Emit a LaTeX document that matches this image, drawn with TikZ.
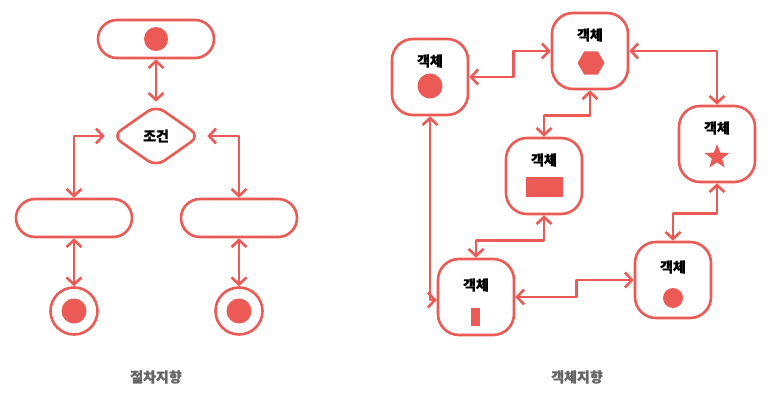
\documentclass[tikz,border=0pt]{standalone}
\usepackage{fontspec}
\newfontfamily\kr{Noto Sans CJK KR}[BoldFeatures={FakeBold=0.8}]
\usepackage{xcolor}
\usepackage{tikz}
\usetikzlibrary{arrows.meta, positioning, shapes.geometric}

\definecolor{coral}{HTML}{EC5A55}
\definecolor{capgray}{HTML}{666666}

\begin{document}
\begin{tikzpicture}[x=1pt, y=-1pt, >={Straight Barb[length=7pt, width=15pt]},
    link/.style={<->, draw=coral, line width=2.6pt, line join=round},
    pill/.style={draw=coral, line width=2.6pt, rounded corners=19pt, minimum width=116pt, minimum height=38pt, inner sep=0pt},
    cond/.style={diamond, draw=coral, line width=2.6pt, rounded corners=10pt, aspect=1.45, minimum width=88pt, minimum height=62pt, inner sep=0pt, font=\kr\bfseries\fontsize{14}{16}\selectfont},
    endring/.style={circle, draw=coral, line width=2.6pt, minimum size=47pt, inner sep=0pt},
    objbox/.style={draw=coral, line width=2.6pt, rounded corners=21pt, minimum width=76pt, minimum height=76pt, inner sep=0pt},
    objtext/.style={font=\kr\bfseries\fontsize{14}{16}\selectfont, inner sep=0pt},
    caption/.style={font=\kr\bfseries\fontsize{14}{16}\selectfont, text=capgray, inner sep=0pt},
    mark dot/.style={circle, fill=coral, inner sep=0pt}]
    \useasboundingbox (0,0) rectangle (773,406);

    % 절차지향
    \node[pill] (start) at (156,39) {};
    \node[mark dot, minimum size=24pt] (startdot) at (start) {};
    \node[cond] (check) at (156,136) {조건};
    \node[pill] (leftbox) at (74,218) {};
    \node[pill] (rightbox) at (239,218) {};
    \node[endring] (endL) at (74,311) {};
    \node[endring] (endR) at (239,311) {};
    \node[mark dot, minimum size=25pt] (endLdot) at (endL) {};
    \node[mark dot, minimum size=25pt] (endRdot) at (endR) {};

    \draw[link, shorten >=2pt] (start) -- (check.north);
    \draw[link, shorten <=6pt] (check.west) -| (leftbox.north);
    \draw[link, shorten <=6pt] (check.east) -| (rightbox.north);
    \draw[link] (leftbox) -- (endL);
    \draw[link] (rightbox) -- (endR);

    \node[caption] (procLabel) at (156,377) {절차지향};

    % 객체지향
    \node[objbox] (objA) at (430,77) {};
    \node[objbox] (objB) at (590,51) {};
    \node[objbox] (objC) at (717,144) {};
    \node[objbox] (objD) at (544,176) {};
    \node[objbox] (objE) at (476,297) {};
    \node[objbox] (objF) at (673,280) {};

    \node[objtext] (textA) at (430,61) {객체};
    \node[objtext] (textB) at (590,35) {객체};
    \node[objtext] (textC) at (717,128) {객체};
    \node[objtext] (textD) at (544,160) {객체};
    \node[objtext] (textE) at (476,285) {객체};
    \node[objtext] (textF) at (673,267) {객체};

    \node[mark dot, minimum size=25pt] (shapeA) at (430,86) {};
    \node[regular polygon, regular polygon sides=6, fill=coral, minimum size=27pt, inner sep=0pt] (shapeB) at (591,63) {};
    \node[star, star points=5, star point ratio=2.4, fill=coral, minimum size=26pt, inner sep=0pt] (shapeC) at (717,157) {};
    \node[fill=coral, minimum width=37pt, minimum height=19pt, inner sep=0pt] (shapeD) at (544,187) {};
    \node[fill=coral, minimum width=9pt, minimum height=18pt, inner sep=0pt] (shapeE) at (475,317) {};
    \node[mark dot, minimum size=20pt] (shapeF) at (673,298) {};

    \draw[link] (objA.east) -- ++(44,0) |- (objB.west);
    \draw[link] (objB.east) -| (objC.north);
    \draw[link] (objB.south) -- ++(0,25) -| (objD.north);
    \draw[link] (objD.south) -- ++(0,25) -| (objE.north);
    \draw[link] (objC.south) -- ++(0,30) -| (objF.north);
    \draw[link] (objE.east) -- ++(61,0) |- (objF.west);
    \draw[link] (objA.south) |- ([yshift=-3pt]objE.west);

    \node[caption] (objLabel) at (577,377) {객체지향};
\end{tikzpicture}
\end{document}
